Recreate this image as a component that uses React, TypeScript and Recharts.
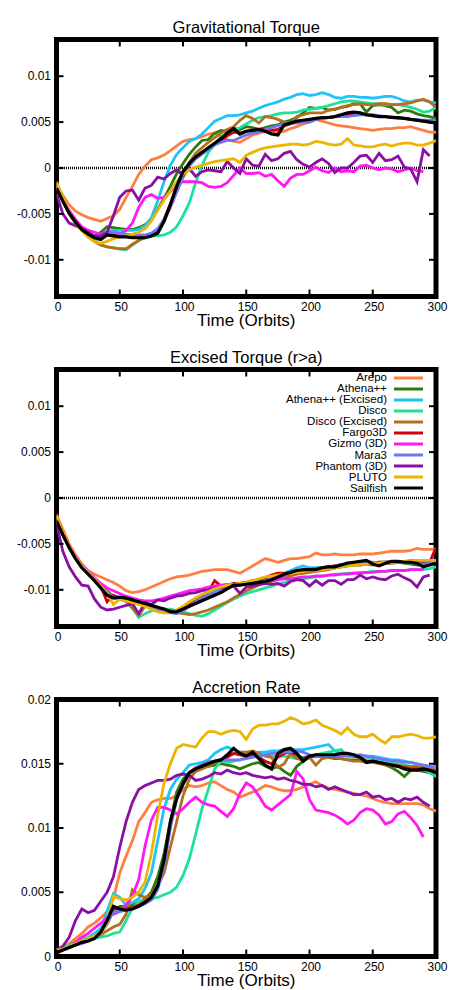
import { LineChart, Line, XAxis, YAxis, ReferenceLine, ReferenceArea, Legend } from 'recharts'

// Three stacked gnuplot-style panels: torque, excised torque, accretion rate

const FONT = '"Liberation Sans", Arial, Helvetica, sans-serif'
const W = 457
const H = 330
const M = { top: 39.5, right: 21, left: 56.5, bottom: 33.5 }
const PLOT_W = W - M.left - M.right
const PLOT_H = H - M.top - M.bottom

// values below are in units of 1e-3
const UNIT = 1e-3

const TIME = [
  0, 5, 10, 15, 20, 25, 30, 35, 40, 45,
  50, 55, 60, 65, 70, 75, 80, 85, 90, 95,
  100, 105, 110, 115, 120, 125, 130, 135, 140, 145,
  150, 155, 160, 165, 170, 175, 180, 185, 190, 195,
  200, 205, 210, 215, 220, 225, 230, 235, 240, 245,
  250, 255, 260, 265, 270, 275, 280, 285, 290, 295,
  300,
]
const X_TICKS = [0, 50, 100, 150, 200, 250, 300]
const TORQUE_TICKS = [-0.01, -0.005, 0, 0.005, 0.01]
const ACC_TICKS = [0, 0.005, 0.01, 0.015, 0.02]

const NAMES = ['Arepo', 'Athena++', 'Athena++ (Excised)', 'Disco', 'Disco (Excised)', 'Fargo3D',
  'Gizmo (3D)', 'Mara3', 'Phantom (3D)', 'PLUTO', 'Sailfish']
const COLORS = ['#ff7f41', '#2e7a0c', '#1ec4f5', '#1de39a', '#b56f1c', '#d0000c',
  '#ff17f5', '#6e78f6', '#8a0fa6', '#ecb503', '#000000']

// ── Gravitational torque ─────────────────────────────────────────
const gtArepo = [-1.8,-3.0,-4.0,-4.7,-5.1,-5.4,-5.6,-5.8,-5.5,-5.2, -4.5,-3.2,-2.0,-0.7,0.2,0.9,1.1,1.4,1.9,2.4, 2.9,3.1,3.2,3.4,3.7,3.8,3.4,3.1,2.9,2.8, 3.2,3.6,3.8,4.0,4.0,3.9,4.0,4.3,4.5,4.8, 5.0,5.3,5.1,4.9,4.7,4.6,4.5,4.4,4.3,4.2, 4.1,4.2,4.3,4.3,4.4,4.4,4.5,4.3,4.1,3.9, 3.9]
const gtAthena = [-2.0,-3.6,-4.9,-5.9,-6.6,-7.1,-7.4,-7.0,-6.4,-6.5, -6.6,-6.7,-6.7,-6.5,-6.2,-5.6,-4.5,-3.3,-2.0,-0.6, 0.5,1.5,2.3,3.0,3.1,3.8,4.1,4.0,4.3,4.2, 4.5,4.4,4.2,4.4,4.6,4.7,5.0,5.2,5.5,6.0, 6.6,6.5,6.6,6.3,6.4,6.6,6.7,7.0,7.0,6.1, 6.8,6.9,6.8,6.6,6.0,6.3,6.2,5.9,5.7,5.6, 5.4]
const gtAthenaEx = [-2.0,-3.6,-4.9,-5.9,-6.6,-7.1,-7.5,-7.3,-6.9,-6.8, -6.8,-6.8,-6.8,-6.7,-6.3,-5.4,-3.6,-1.5,0.3,1.5, 2.2,2.9,3.2,3.7,4.4,5.1,5.4,5.7,5.7,5.8, 6.0,6.2,6.5,6.8,7.0,7.2,7.5,7.7,8.0,8.1, 7.9,8.0,8.2,8.0,7.7,7.6,7.8,7.8,7.7,7.7, 7.6,7.7,7.8,7.8,7.6,7.3,7.2,7.4,7.4,7.2, 7.1]
const gtDisco = [-2.0,-3.6,-5.0,-6.0,-6.8,-7.4,-7.9,-8.3,-8.6,-8.7, -8.8,-8.9,-8.4,-7.9,-7.6,-7.4,-7.4,-7.3,-7.0,-6.4, -5.2,-3.8,-1.6,0.3,1.7,2.6,3.4,3.8,4.0,4.4, 4.8,5.2,5.5,5.6,5.7,5.9,6.0,6.0,6.1,6.3, 6.4,6.5,6.6,6.8,7.0,7.2,7.3,7.3,7.2,7.1, 7.0,7.0,6.9,6.9,6.9,6.8,6.6,6.4,6.1,6.2, 6.6]
const gtDiscoEx = [-1.8,-3.5,-5.0,-6.0,-6.8,-7.5,-8.0,-8.4,-8.6,-8.7, -8.8,-8.8,-8.3,-7.9,-7.5,-7.2,-6.8,-5.8,-4.3,-2.6, -1.0,0.6,1.6,2.2,2.8,3.3,3.8,4.2,4.5,5.2, 5.7,5.4,4.9,5.6,5.5,5.3,5.0,4.9,5.6,5.8, 6.0,6.0,6.0,6.3,6.4,6.6,6.8,6.9,7.0,6.9, 6.9,7.0,7.0,6.9,6.9,7.0,7.1,7.3,7.5,7.2, 6.6]
const gtFargo = [-2.1,-3.6,-4.9,-5.9,-6.7,-7.2,-7.5,-7.6,-7.3,-7.3, -7.4,-7.4,-7.5,-7.5,-7.4,-7.2,-6.8,-5.6,-3.9,-2.0, -0.5,0.4,1.1,1.6,2.1,2.6,3.0,3.5,3.9,3.8, 4.0,4.1,4.2,4.2,4.1,4.2,4.6,4.8,5.0,5.1, 5.2,5.3,5.4,5.5,5.6,5.7,5.8,5.9,5.9,5.8, 5.7,5.6,5.6,5.5,5.4,5.4,5.3,5.2,5.1,5.0, 5.0]
const gtGizmo = [-2.0,-3.5,-4.6,-5.6,-6.4,-6.8,-7.0,-7.2,-7.0,-7.0, -7.2,-6.8,-6.0,-4.3,-3.2,-2.9,-3.3,-3.2,-2.6,-1.8, -1.5,-1.5,-1.5,-1.6,-2.0,-2.1,-2.0,-1.6,-0.8,0.0, -0.6,-0.6,-0.5,-0.9,-0.7,-1.4,-2.0,-1.1,-0.7,-0.7, -0.3,0.1,-0.3,-0.5,0.0,-0.4,-0.3,-0.4,0.2,0.3, 0.0,-0.2,0.0,-0.1,-0.4,-0.2,0.0,-0.3,-0.4]
const gtMara = [-2.0,-3.6,-4.9,-5.9,-6.6,-7.1,-7.4,-7.4,-7.1,-7.0, -7.1,-7.2,-7.3,-7.3,-7.3,-7.1,-6.6,-5.6,-4.2,-2.6, -1.0,0.2,1.0,1.5,2.0,2.5,2.8,3.0,3.0,3.3, 3.6,3.8,3.9,4.2,4.4,4.6,4.8,4.9,4.9,5.0, 5.0,5.3,5.4,5.5,5.6,5.6,5.6,5.7,5.8,5.8, 5.8,5.7,5.6,5.6,5.5,5.4,5.3,5.3,5.2,5.2, 5.2]
const gtPhantom = [-2.8,-5.0,-6.0,-6.3,-6.6,-7.0,-7.4,-7.4,-7.0,-5.2, -3.2,-2.5,-2.4,-3.5,-2.2,-1.9,-1.0,-1.2,-0.6,-0.2, -0.8,-0.1,-0.9,-0.4,-0.2,-0.3,-0.4,0.7,0.0,-0.6, 1.0,0.3,0.2,1.5,0.8,1.0,1.6,1.8,0.9,0.4, 0.1,0.6,1.0,0.5,-0.5,0.0,0.0,0.6,1.3,1.4, 0.6,1.6,0.8,0.9,1.3,0.1,-0.1,-1.5,2.0,1.3]
const gtPluto = [-1.5,-3.2,-4.8,-6.0,-6.8,-7.5,-8.0,-8.2,-8.0,-7.7, -7.5,-7.4,-7.2,-7.0,-6.6,-5.8,-4.6,-3.5,-2.5,-1.5, -0.7,-0.2,0.1,0.3,0.5,0.7,0.8,0.9,1.0,0.6, 1.4,1.7,2.0,2.2,2.3,2.4,2.5,2.6,2.6,2.5, 2.6,2.9,2.8,2.6,2.5,2.6,3.2,2.5,2.4,2.3, 2.3,2.5,2.6,2.4,2.6,2.7,2.7,2.5,2.5,2.7, 3.0]
const gtSailfish = [-2.2,-3.6,-4.9,-5.9,-6.7,-7.2,-7.6,-7.8,-7.3,-7.4, -7.5,-7.5,-7.6,-7.6,-7.6,-7.4,-7.1,-5.8,-4.0,-2.0, -0.4,0.5,1.2,1.7,2.2,2.7,3.2,3.8,4.3,3.7, 4.0,4.1,4.2,4.0,3.7,3.6,4.7,4.9,5.1,5.2, 5.3,5.4,5.5,5.5,5.6,5.8,6.0,6.1,6.0,5.8, 5.7,5.6,5.6,5.5,5.5,5.4,5.3,5.2,5.1,5.0, 4.9]

// ── Excised torque (r>a) ─────────────────────────────────────────
const etArepo = [-1.8,-3.4,-5.0,-6.2,-7.2,-7.9,-8.3,-8.6,-8.9,-9.2, -9.6,-10.1,-10.3,-10.2,-10.0,-9.7,-9.4,-9.1,-8.8,-8.6, -8.5,-8.4,-8.2,-8.0,-7.9,-7.8,-7.8,-7.8,-8.0,-8.2, -7.8,-7.4,-7.0,-6.6,-6.8,-7.0,-6.8,-6.6,-6.6,-6.5, -6.4,-6.0,-6.2,-6.2,-6.1,-6.2,-6.2,-6.2,-6.1,-6.1, -6.1,-6.0,-5.9,-5.8,-5.8,-5.8,-5.7,-5.5,-5.6,-5.6, -5.6]
const etAthena = [-2.5,-4.0,-5.4,-6.5,-7.4,-8.1,-8.8,-9.5,-10.1,-10.7, -10.9,-11.1,-11.3,-11.5,-11.7,-11.9,-12.1,-12.2,-12.3,-12.3, -12.0,-11.6,-11.2,-10.9,-10.6,-10.3,-10.0,-9.8,-9.6,-9.5, -9.3,-9.2,-9.1,-9.0,-8.9,-8.8,-8.6,-8.3,-8.1,-8.0, -7.9,-7.8,-7.7,-7.6,-7.6,-7.5,-7.4,-7.3,-7.2,-7.1, -7.2,-7.2,-7.1,-7.1,-7.0,-7.1,-7.2,-7.3,-7.3,-7.2, -7.0]
const etAthenaEx = [-2.5,-4.0,-5.4,-6.5,-7.4,-8.1,-8.8,-9.6,-10.3,-10.8, -11.0,-11.1,-11.3,-11.5,-11.6,-11.8,-12.0,-12.2,-12.4,-12.6, -12.2,-11.7,-11.2,-10.8,-10.4,-10.1,-9.8,-9.6,-9.4,-9.3, -9.2,-9.1,-9.0,-8.8,-8.6,-8.4,-8.2,-7.9,-7.6,-7.4, -7.6,-7.6,-7.6,-7.5,-7.4,-7.3,-7.2,-7.1,-7.0,-7.0, -7.1,-7.0,-7.0,-6.9,-6.9,-6.9,-6.8,-6.8,-6.9,-6.9, -6.9]
const etDisco = [-2.5,-4.0,-5.4,-6.5,-7.4,-8.1,-8.8,-9.5,-10.2,-10.8, -11.0,-11.3,-12.0,-13.0,-12.6,-12.3,-12.2,-12.1,-12.1,-12.3, -12.4,-12.6,-12.8,-12.9,-12.6,-12.2,-11.8,-11.4,-11.0,-10.7, -10.4,-10.2,-10.0,-9.8,-9.6,-9.4,-9.2,-9.0,-8.9,-8.8, -8.7,-8.6,-8.5,-8.4,-8.3,-8.3,-8.2,-8.2,-8.1,-8.1, -8.0,-8.0,-8.0,-7.9,-7.9,-7.9,-7.8,-7.8,-7.8,-7.7, -7.5]
const etDiscoEx = [-2.5,-4.0,-5.4,-6.5,-7.4,-8.1,-8.8,-9.5,-10.2,-10.8, -11.0,-11.2,-12.0,-12.8,-11.8,-12.0,-12.1,-12.2,-12.4,-12.5, -12.6,-12.7,-12.6,-12.4,-12.2,-11.9,-11.6,-11.3,-10.9,-10.5, -10.1,-9.8,-9.5,-9.3,-9.1,-8.9,-8.7,-8.5,-8.3,-8.2, -8.1,-8.0,-7.9,-7.8,-7.6,-7.5,-7.4,-7.3,-7.3,-7.2, -7.3,-7.2,-7.1,-7.1,-7.0,-7.0,-7.0,-6.9,-6.9,-6.8, -6.8]
const etFargo = [-2.5,-4.0,-5.4,-6.5,-7.4,-8.2,-8.9,-9.6,-11.3,-10.6, -10.9,-11.1,-11.3,-11.5,-11.6,-11.8,-12.0,-12.2,-12.3,-12.3, -12.0,-11.5,-11.0,-10.6,-10.2,-9.0,-9.6,-9.5,-9.3,-9.3, -9.2,-9.0,-8.9,-8.7,-8.4,-8.2,-8.2,-8.1,-8.0,-7.9, -7.8,-7.7,-7.6,-7.5,-7.4,-7.3,-7.2,-7.1,-7.0,-7.0, -7.1,-7.0,-7.0,-6.9,-6.9,-7.0,-7.0,-7.0,-7.1,-7.0, -5.4]
const etGizmo = [-2.5,-4.0,-5.3,-6.4,-7.3,-8.0,-8.7,-9.3,-9.8,-10.1, -10.4,-10.7,-10.9,-11.1,-11.2,-11.2,-11.1,-10.9,-10.7,-10.5, -10.3,-10.1,-10.0,-9.9,-9.7,-9.6,-9.5,-9.4,-9.4,-9.3, -9.3,-9.2,-9.1,-9.0,-9.0,-8.9,-8.8,-8.8,-8.7,-8.6, -8.6,-8.5,-8.5,-8.4,-8.4,-8.3,-8.3,-8.2,-8.2,-8.1, -8.1,-8.0,-8.0,-7.9,-7.9,-7.9,-7.8,-7.8,-7.8]
const etMara = [-2.5,-4.0,-5.4,-6.5,-7.4,-8.1,-8.9,-9.6,-10.4,-10.8, -10.9,-11.1,-11.3,-11.5,-11.7,-11.9,-12.1,-12.3,-12.5,-12.6, -12.3,-11.8,-11.3,-10.9,-10.6,-10.3,-10.0,-9.7,-9.5,-9.4, -9.3,-9.2,-9.1,-9.0,-8.8,-8.6,-8.4,-8.2,-8.0,-7.9, -7.8,-7.7,-7.6,-7.5,-7.4,-7.3,-7.2,-7.1,-7.0,-6.9, -7.0,-7.1,-7.0,-7.0,-7.0,-7.0,-7.1,-7.1,-7.2,-7.1, -7.0]
const etPhantom = [-2.8,-5.8,-7.5,-8.6,-9.5,-9.6,-11.0,-11.9,-12.2,-12.1, -11.9,-11.7,-11.5,-12.6,-11.4,-11.6,-11.1,-11.2,-10.9,-10.7, -10.6,-10.4,-10.3,-10.1,-10.0,-9.8,-9.8,-9.7,-9.6,-10.4, -9.7,-9.6,-9.4,-9.3,-9.4,-9.3,-9.6,-9.1,-8.9,-9.0, -9.6,-9.0,-9.5,-9.0,-9.0,-9.4,-8.9,-8.9,-8.4,-8.8, -8.6,-8.8,-8.9,-8.5,-8.3,-8.7,-9.0,-9.7,-8.6,-8.4]
const etPluto = [-2.0,-3.8,-5.3,-6.5,-7.4,-8.1,-8.8,-9.6,-10.4,-11.6, -11.0,-11.2,-11.4,-11.6,-11.8,-12.1,-12.4,-12.5,-12.5,-12.2, -11.8,-11.3,-10.9,-10.5,-10.2,-9.9,-9.7,-9.5,-9.4,-9.3, -9.2,-9.0,-8.8,-8.6,-8.5,-8.4,-8.3,-8.2,-8.1,-8.0, -7.9,-7.9,-7.8,-7.7,-7.6,-7.5,-7.4,-7.3,-7.2,-7.2, -7.1,-7.1,-7.0,-7.0,-6.9,-6.9,-6.9,-6.8,-6.8,-6.8, -6.8]
const etSailfish = [-2.5,-4.0,-5.4,-6.6,-7.6,-8.3,-9.0,-9.8,-10.6,-10.9, -10.8,-10.9,-11.1,-11.3,-11.5,-11.7,-11.9,-12.1,-12.4,-12.4, -12.1,-11.8,-11.5,-11.2,-10.9,-10.6,-10.3,-9.9,-9.5,-9.5, -9.4,-9.3,-9.2,-9.1,-8.9,-8.6,-8.3,-8.1,-7.9,-7.8, -7.8,-7.8,-7.6,-7.5,-7.5,-7.3,-7.1,-7.0,-6.9,-6.8, -7.2,-7.4,-7.1,-6.9,-6.9,-7.0,-7.0,-7.1,-7.5,-7.3, -7.1]

// ── Accretion rate ───────────────────────────────────────────────
const arArepo = [0.4,0.7,1.0,1.4,1.8,2.3,2.6,3.0,3.5,4.5, 6.5,7.8,9.0,10.5,11.2,12.0,12.2,12.3,12.3,12.5, 13.0,13.3,13.2,13.3,13.5,13.6,13.3,13.0,12.8,12.4, 12.6,12.8,13.0,13.3,13.2,13.0,12.9,12.9,13.0,13.2, 13.4,13.6,13.3,13.1,13.0,12.9,12.8,12.7,12.6,12.5, 12.3,12.1,12.0,11.9,11.9,11.9,11.9,11.9,11.8,11.5, 11.3]
const arAthena = [0.4,0.6,0.8,1.0,1.2,1.3,1.5,1.9,2.5,3.6, 3.9,3.9,4.0,4.2,4.5,5.0,6.2,8.0,10.5,12.8, 13.8,14.3,14.5,14.7,14.8,14.9,15.0,14.9,14.8,14.6, 14.8,15.0,15.1,14.8,14.6,14.8,14.4,14.1,14.8,15.2, 15.5,15.6,15.6,15.5,15.4,15.4,15.3,15.3,15.3,15.2, 15.2,15.1,14.9,14.7,14.4,14.0,14.5,14.5,14.4,14.3, 14.1]
const arAthenaEx = [0.5,0.7,0.9,1.1,1.3,1.5,1.8,2.2,3.5,4.9, 4.6,4.0,4.2,4.5,5.3,6.5,9.0,11.5,13.0,13.8, 14.3,14.9,15.0,15.1,15.3,15.8,16.1,16.3,16.1,15.9, 15.8,15.8,15.9,15.9,16.0,16.0,16.1,16.1,16.1,16.1, 16.2,16.3,16.4,16.5,16.0,15.8,15.7,15.7,15.6,15.6, 15.6,15.5,15.4,15.3,15.3,15.2,15.1,15.0,14.9,14.8, 14.8]
const arDisco = [0.5,0.7,0.9,1.0,1.2,1.3,1.4,1.5,1.6,1.8, 1.9,2.8,3.8,4.2,4.4,4.5,4.6,4.8,5.0,5.4, 6.3,7.6,9.5,11.5,13.0,14.6,15.2,15.1,15.2,15.3, 15.5,15.6,15.7,15.7,15.6,15.6,15.6,15.5,15.4,15.5, 15.6,15.7,15.8,15.9,16.0,16.1,15.6,15.6,15.5,15.5, 15.4,15.3,15.2,15.1,15.0,14.9,14.8,14.7,14.6,14.3, 14.0]
const arDiscoEx = [0.3,0.5,0.7,0.9,1.1,1.3,1.5,1.7,2.0,2.3, 2.5,3.3,5.2,4.8,4.6,4.8,5.5,6.5,8.5,10.5, 12.5,13.8,14.4,14.6,14.8,15.1,15.3,15.6,15.8,15.9, 15.9,16.0,15.8,15.6,15.5,14.7,15.0,15.8,15.4,15.3, 15.5,14.9,15.4,15.5,15.5,15.4,15.3,15.2,15.2,15.1, 15.1,15.0,14.9,14.9,14.9,14.8,14.8,14.8,14.7,14.6, 14.6]
const arFargo = [0.3,0.5,0.7,0.9,1.1,1.3,1.5,1.9,2.7,3.7, 3.7,3.7,3.8,4.0,4.3,4.6,5.4,7.2,10.2,12.3, 13.5,14.3,14.7,14.9,15.1,15.2,15.3,15.5,15.8,15.7, 15.6,15.7,15.5,15.2,15.0,15.5,15.8,15.9,15.7,15.4, 15.6,15.6,15.6,15.6,15.6,15.7,15.7,15.6,15.5,15.2, 15.2,15.1,15.0,14.9,14.8,14.7,14.6,14.6,14.6,14.5, 14.4]
const arGizmo = [0.3,0.5,0.8,1.1,1.5,1.8,2.2,2.6,3.0,3.3, 3.5,4.0,4.7,6.0,8.6,10.6,11.6,11.6,11.4,11.1, 11.5,12.0,12.4,12.0,11.8,11.7,11.3,10.9,11.5,12.7, 13.5,13.2,12.5,11.7,11.4,11.8,12.2,12.6,14.4,13.8, 12.2,11.4,11.3,11.2,11.0,10.7,10.3,10.6,11.2,11.5, 11.4,11.0,10.3,10.5,11.1,11.3,10.8,10.2,9.3]
const arMara = [0.3,0.5,0.7,0.9,1.0,1.2,1.4,1.8,2.6,3.5, 3.5,3.6,3.7,3.9,4.1,4.4,5.2,7.0,10.0,12.2, 13.4,14.2,14.7,14.9,15.1,15.2,15.3,15.3,15.3,15.3, 15.4,15.5,15.6,15.7,15.8,15.8,15.9,15.9,16.0,15.9, 15.7,15.6,15.6,15.6,15.6,15.6,15.6,15.6,15.7,15.6, 15.5,15.4,15.3,15.2,15.2,15.1,15.1,15.0,14.9,14.8, 14.7]
const arPhantom = [0.5,0.8,1.5,2.8,3.7,3.4,3.6,4.3,5.0,6.2, 8.5,10.5,12.0,13.0,13.3,13.5,13.7,13.7,13.8,14.1, 14.2,14.1,13.7,13.8,14.0,14.3,14.2,14.5,14.3,14.2, 14.3,14.1,14.0,13.9,14.0,13.8,13.9,13.7,13.6,13.4, 13.4,13.2,13.3,13.0,13.2,13.0,12.8,12.6,12.6,12.8, 12.4,12.5,12.2,12.3,12.0,12.3,12.2,12.4,12.0,11.7]
const arPluto = [0.5,0.6,0.8,1.0,1.2,1.4,1.6,1.8,2.6,4.7, 4.5,4.4,4.6,5.0,5.8,8.0,11.0,13.5,15.0,16.2, 16.5,16.4,16.3,17.0,17.5,17.5,17.3,17.5,17.6,17.5, 16.9,17.7,18.0,18.0,18.1,18.1,18.3,18.6,18.4,18.1, 18.2,18.4,18.0,17.8,17.6,17.3,17.8,17.3,17.1,17.1, 17.3,16.9,16.6,17.1,17.1,17.2,17.3,17.2,17.0,17.0, 17.1]
const arSailfish = [0.3,0.5,0.7,0.9,1.1,1.2,1.4,1.9,2.8,3.9, 3.7,3.6,3.7,3.9,4.2,4.6,5.5,7.5,10.5,12.3, 13.4,14.3,14.6,14.8,15.0,15.2,15.3,15.7,16.2,15.8, 15.6,15.9,15.4,14.9,14.6,15.8,16.1,16.2,15.8,15.2, 15.6,15.7,15.7,15.7,15.7,15.8,15.8,15.7,15.5,15.1, 15.2,15.1,15.0,14.9,14.8,14.6,14.5,14.5,14.6,14.5, 14.3]

const TORQUE = [gtArepo, gtAthena, gtAthenaEx, gtDisco, gtDiscoEx, gtFargo, gtGizmo, gtMara, gtPhantom, gtPluto, gtSailfish]
const EXCISED = [etArepo, etAthena, etAthenaEx, etDisco, etDiscoEx, etFargo, etGizmo, etMara, etPhantom, etPluto, etSailfish]
const ACCRETION = [arArepo, arAthena, arAthenaEx, arDisco, arDiscoEx, arFargo, arGizmo, arMara, arPhantom, arPluto, arSailfish]

const toRows = (vals: number[]) => vals.map((v, i) => ({ t: TIME[i], v: v * UNIT }))

// tick label + small inward tick marks on both sides of the frame
function YTick({ x, y, payload }: { x?: number; y?: number; payload?: { value: number } }) {
  if (x == null || y == null || !payload) return null
  return (
    <g>
      <line x1={x} x2={x + 7} y1={y} y2={y} stroke="#000" strokeWidth={2} />
      <line x1={x + PLOT_W} x2={x + PLOT_W - 7} y1={y} y2={y} stroke="#000" strokeWidth={2} />
      <text x={x - 5.5} y={y} dy="0.35em" textAnchor="end" fontSize={12} fontFamily={FONT} fill="#000">
        {payload.value}
      </text>
    </g>
  )
}

function XTick({ x, y, payload }: { x?: number; y?: number; payload?: { value: number } }) {
  if (x == null || y == null || !payload) return null
  return (
    <g>
      <line x1={x} x2={x} y1={y} y2={y - 7} stroke="#000" strokeWidth={2} />
      <line x1={x} x2={x} y1={y - PLOT_H} y2={y - PLOT_H + 7} stroke="#000" strokeWidth={2} />
      <text x={x + 1.5} y={y + 10} dy="0.35em" textAnchor="middle" fontSize={12} fontFamily={FONT} fill="#000">
        {payload.value}
      </text>
    </g>
  )
}

function KeyBox({ payload }: { payload?: Array<{ value: string; color?: string }> }) {
  if (!payload) return null
  const items = [...payload].sort((a, b) => NAMES.indexOf(a.value) - NAMES.indexOf(b.value))
  return (
    <div style={{ fontFamily: FONT, fontSize: 11.5, color: '#000' }}>
      {items.map(p => (
        <div key={p.value} style={{ display: 'flex', justifyContent: 'flex-end', alignItems: 'center', height: 11.05 }}>
          <span style={{ marginRight: 7, lineHeight: '11px', whiteSpace: 'nowrap' }}>{p.value}</span>
          <svg width={29} height={4} style={{ display: 'block' }}>
            <line x1={0} x2={29} y1={2} y2={2} stroke={p.color} strokeWidth={3} />
          </svg>
        </div>
      ))}
    </div>
  )
}

interface PanelProps {
  top: number
  title: string
  series: number[][]
  yDomain: [number, number]
  yTicks: number[]
  zeroLine?: boolean
  legend?: boolean
}

function Panel({ top, title, series, yDomain, yTicks, zeroLine, legend }: PanelProps) {
  return (
    <div style={{ position: 'absolute', top, left: 0, width: W, height: H }}>
      <LineChart width={W} height={H} margin={{ top: M.top, right: M.right, left: 0, bottom: 0 }}>
        <XAxis
          type="number"
          dataKey="t"
          domain={[0, 300]}
          ticks={X_TICKS}
          height={M.bottom}
          tickSize={0}
          tickMargin={0}
          axisLine={false}
          tickLine={false}
          tick={<XTick />}
          allowDataOverflow
        />
        <YAxis
          type="number"
          domain={yDomain}
          ticks={yTicks}
          width={M.left}
          tickSize={0}
          tickMargin={0}
          axisLine={false}
          tickLine={false}
          tick={<YTick />}
          allowDataOverflow
        />
        {zeroLine && (
          <ReferenceLine y={0} stroke="#000" strokeWidth={2.5} strokeDasharray="1 1" strokeDashoffset={0.5} />
        )}
        {series.map((vals, i) => (
          <Line
            key={NAMES[i]}
            data={toRows(vals)}
            dataKey="v"
            name={NAMES[i]}
            type="linear"
            stroke={COLORS[i]}
            strokeWidth={i === NAMES.length - 1 ? 3.2 : 2.8}
            dot={false}
            activeDot={false}
            isAnimationActive={false}
          />
        ))}
        <ReferenceArea
          x1={0}
          x2={300}
          y1={yDomain[0]}
          y2={yDomain[1]}
          fill="none"
          stroke="#000"
          strokeWidth={5}
          ifOverflow="visible"
        />
        {legend && (
          <Legend
            layout="vertical"
            align="center"
            verticalAlign="middle"
            content={<KeyBox />}
            wrapperStyle={{ top: 42.2, right: 34, left: 'auto', bottom: 'auto', width: 'auto' }}
          />
        )}
      </LineChart>
      <div style={{
        position: 'absolute', top: 18, left: M.left, width: PLOT_W, textAlign: 'center',
        fontFamily: FONT, fontSize: 16.5, lineHeight: '18px', color: '#000',
      }}>
        {title}
      </div>
      <div style={{
        position: 'absolute', top: 313, left: M.left, width: PLOT_W, textAlign: 'center',
        fontFamily: FONT, fontSize: 17, lineHeight: '16px', color: '#000',
      }}>
        Time (Orbits)
      </div>
    </div>
  )
}

export default function App() {
  return (
    <div style={{ position: 'relative', width: W, height: 990, background: '#fff' }}>
      <style>{'body{margin:0;background:#fff}'}</style>
      <Panel top={0} title="Gravitational Torque" series={TORQUE} yDomain={[-0.014, 0.014]} yTicks={TORQUE_TICKS} zeroLine />
      <Panel top={330} title="Excised Torque (r>a)" series={EXCISED} yDomain={[-0.014, 0.014]} yTicks={TORQUE_TICKS} zeroLine legend />
      <Panel top={660} title="Accretion Rate" series={ACCRETION} yDomain={[0, 0.02]} yTicks={ACC_TICKS} />
    </div>
  )
}
